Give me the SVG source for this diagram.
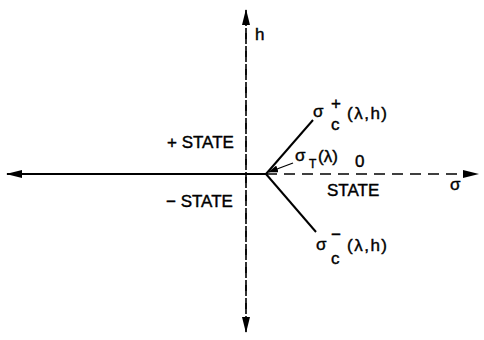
<svg xmlns="http://www.w3.org/2000/svg" width="484" height="340" viewBox="0 0 484 340">
<defs>
<marker id="ah" markerWidth="16" markerHeight="8" refX="15" refY="4" orient="auto" markerUnits="userSpaceOnUse">
<path d="M0,0 L16,4 L0,8 Z" fill="#000"/>
</marker>
<marker id="ahs" markerWidth="10" markerHeight="7" refX="9" refY="3.5" orient="auto" markerUnits="userSpaceOnUse">
<path d="M0,0 L10,3.5 L0,7 Z" fill="#000"/>
</marker>
</defs>
<style>
.t{font-family:"Liberation Sans",Arial,sans-serif;fill:#000;stroke:#000;stroke-width:0.4}
.l{font-size:17px}
.s{font-size:12px}
.w{letter-spacing:1.5px}
.solid{stroke:#000;stroke-width:2;fill:none}
.dash{stroke:#000;stroke-width:1.6;fill:none;stroke-dasharray:11 7}
</style>
<rect width="484" height="340" fill="#fff"/>
<g id="connectors">
<line class="dash" x1="246" y1="332" x2="246" y2="10" marker-end="url(#ah)"/>
<line class="dash" x1="246" y1="10" x2="246" y2="332" marker-end="url(#ah)"/>
<line class="solid" x1="266" y1="174" x2="7" y2="174" marker-end="url(#ah)"/>
<line class="dash" x1="266" y1="174" x2="478" y2="174" marker-end="url(#ah)"/>
<line class="solid" x1="266" y1="174" x2="313" y2="120"/>
<line class="solid" x1="266" y1="174" x2="316" y2="232"/>
<line stroke="#000" stroke-width="1.3" x1="293" y1="163" x2="269" y2="172" marker-end="url(#ahs)"/>
</g>
<g id="label-h"><text class="t l" x="255" y="40">h</text></g>
<g id="plus-state"><text class="t l" x="167" y="148">+ STATE</text></g>
<g id="minus-state"><text class="t l" x="166" y="207">− STATE</text></g>
<g id="zero-state">
<text class="t l" x="355" y="167">0</text>
<text class="t l" x="327" y="196">STATE</text>
</g>
<g id="label-sigma"><text class="t l" x="450" y="190">σ</text></g>
<g id="sigma-c-plus">
<text class="t l" x="313" y="117">σ</text>
<text class="t l" x="331" y="109">+</text>
<text class="t l" x="331" y="130">c</text>
<text class="t l w" x="347" y="119">(λ,h)</text>
</g>
<g id="sigma-c-minus">
<text class="t l" x="316" y="250">σ</text>
<text class="t l" x="331" y="240">−</text>
<text class="t l" x="331" y="264">c</text>
<text class="t l w" x="347" y="251">(λ,h)</text>
</g>
<g id="sigma-T">
<text class="t l" x="295" y="161">σ</text>
<text class="t s" x="309" y="168">T</text>
<text class="t l" x="318" y="162">(λ)</text>
</g>
</svg>
